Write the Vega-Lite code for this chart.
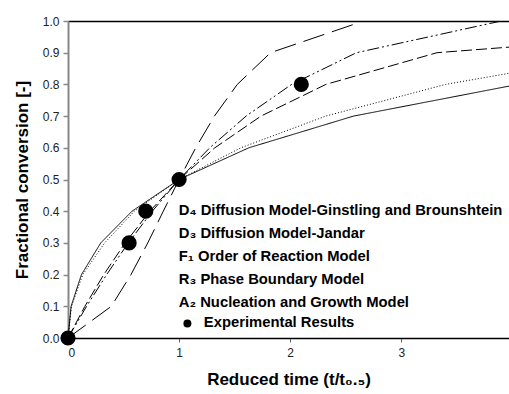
{
  "$schema": "https://vega.github.io/schema/vega-lite/v6.json",
  "width": 441,
  "height": 317,
  "autosize": {"type": "none"},
  "padding": {"left": 68, "top": 21, "right": 0, "bottom": 56},
  "background": "white",
  "config": {
    "view": {"stroke": null},
    "font": "Liberation Sans",
    "axis": {"grid": false, "labelFont": "Liberation Sans", "titleFont": "Liberation Sans"}
  },
  "datasets": {
    "lines": [
      {"model": "D₄ Diffusion Model-Ginstling and Brounshtein", "t": 0, "a": 0},
      {"model": "D₄ Diffusion Model-Ginstling and Brounshtein", "t": 0.031, "a": 0.1},
      {"model": "D₄ Diffusion Model-Ginstling and Brounshtein", "t": 0.133, "a": 0.2},
      {"model": "D₄ Diffusion Model-Ginstling and Brounshtein", "t": 0.33, "a": 0.3},
      {"model": "D₄ Diffusion Model-Ginstling and Brounshtein", "t": 0.597, "a": 0.4},
      {"model": "D₄ Diffusion Model-Ginstling and Brounshtein", "t": 1, "a": 0.5},
      {"model": "D₄ Diffusion Model-Ginstling and Brounshtein", "t": 1.556, "a": 0.6},
      {"model": "D₄ Diffusion Model-Ginstling and Brounshtein", "t": 2.32, "a": 0.7},
      {"model": "D₄ Diffusion Model-Ginstling and Brounshtein", "t": 3.4, "a": 0.8},
      {"model": "D₄ Diffusion Model-Ginstling and Brounshtein", "t": 5.03, "a": 0.9},
      {"model": "D₃ Diffusion Model-Jandar", "t": 0, "a": 0},
      {"model": "D₃ Diffusion Model-Jandar", "t": 0.028, "a": 0.1},
      {"model": "D₃ Diffusion Model-Jandar", "t": 0.121, "a": 0.2},
      {"model": "D₃ Diffusion Model-Jandar", "t": 0.295, "a": 0.3},
      {"model": "D₃ Diffusion Model-Jandar", "t": 0.576, "a": 0.4},
      {"model": "D₃ Diffusion Model-Jandar", "t": 1, "a": 0.5},
      {"model": "D₃ Diffusion Model-Jandar", "t": 1.628, "a": 0.6},
      {"model": "D₃ Diffusion Model-Jandar", "t": 2.57, "a": 0.7},
      {"model": "D₃ Diffusion Model-Jandar", "t": 4.05, "a": 0.8},
      {"model": "F₁ Order of Reaction Model", "t": 0, "a": 0},
      {"model": "F₁ Order of Reaction Model", "t": 0.152, "a": 0.1},
      {"model": "F₁ Order of Reaction Model", "t": 0.322, "a": 0.2},
      {"model": "F₁ Order of Reaction Model", "t": 0.515, "a": 0.3},
      {"model": "F₁ Order of Reaction Model", "t": 0.737, "a": 0.4},
      {"model": "F₁ Order of Reaction Model", "t": 1, "a": 0.5},
      {"model": "F₁ Order of Reaction Model", "t": 1.322, "a": 0.6},
      {"model": "F₁ Order of Reaction Model", "t": 1.737, "a": 0.7},
      {"model": "F₁ Order of Reaction Model", "t": 2.322, "a": 0.8},
      {"model": "F₁ Order of Reaction Model", "t": 3.322, "a": 0.9},
      {"model": "F₁ Order of Reaction Model", "t": 6.644, "a": 0.99},
      {"model": "R₃ Phase Boundary Model", "t": 0, "a": 0},
      {"model": "R₃ Phase Boundary Model", "t": 0.167, "a": 0.1},
      {"model": "R₃ Phase Boundary Model", "t": 0.348, "a": 0.2},
      {"model": "R₃ Phase Boundary Model", "t": 0.543, "a": 0.3},
      {"model": "R₃ Phase Boundary Model", "t": 0.759, "a": 0.4},
      {"model": "R₃ Phase Boundary Model", "t": 1, "a": 0.5},
      {"model": "R₃ Phase Boundary Model", "t": 1.276, "a": 0.6},
      {"model": "R₃ Phase Boundary Model", "t": 1.603, "a": 0.7},
      {"model": "R₃ Phase Boundary Model", "t": 2.013, "a": 0.8},
      {"model": "R₃ Phase Boundary Model", "t": 2.597, "a": 0.9},
      {"model": "R₃ Phase Boundary Model", "t": 3.9, "a": 1.0},
      {"model": "A₂ Nucleation and Growth Model", "t": 0, "a": 0},
      {"model": "A₂ Nucleation and Growth Model", "t": 0.39, "a": 0.1},
      {"model": "A₂ Nucleation and Growth Model", "t": 0.567, "a": 0.2},
      {"model": "A₂ Nucleation and Growth Model", "t": 0.718, "a": 0.3},
      {"model": "A₂ Nucleation and Growth Model", "t": 0.858, "a": 0.4},
      {"model": "A₂ Nucleation and Growth Model", "t": 1, "a": 0.5},
      {"model": "A₂ Nucleation and Growth Model", "t": 1.15, "a": 0.6},
      {"model": "A₂ Nucleation and Growth Model", "t": 1.318, "a": 0.7},
      {"model": "A₂ Nucleation and Growth Model", "t": 1.524, "a": 0.8},
      {"model": "A₂ Nucleation and Growth Model", "t": 1.823, "a": 0.9},
      {"model": "A₂ Nucleation and Growth Model", "t": 2.578, "a": 0.99}
    ],
    "points": [
      {"model": "Experimental Results", "t": 0, "a": 0},
      {"model": "Experimental Results", "t": 0.55, "a": 0.3},
      {"model": "Experimental Results", "t": 0.7, "a": 0.4},
      {"model": "Experimental Results", "t": 1, "a": 0.5},
      {"model": "Experimental Results", "t": 2.1, "a": 0.8}
    ]
  },
  "layer": [
    {
      "data": {"name": "lines"},
      "mark": {"type": "line", "clip": true, "color": "black", "strokeWidth": 1},
      "encoding": {
        "x": {
          "field": "t", "type": "quantitative",
          "scale": {"domain": [0, 3.97], "nice": false, "zero": false},
          "axis": {
            "orient": "bottom", "values": [0, 1, 2, 3], "format": "d",
            "title": "Reduced time (t/t₀.₅)",
            "titleFontSize": 17, "titleFontWeight": "bold", "titleColor": "black", "titlePadding": 13,
            "labelFontSize": 12, "labelColor": "#222", "labelPadding": 5,
            "domainColor": "black", "domainWidth": 1.5,
            "tickColor": "#666", "tickSize": 4, "tickWidth": 1
          }
        },
        "y": {
          "field": "a", "type": "quantitative",
          "scale": {"domain": [0, 1], "nice": false},
          "axis": {
            "values": [0, 0.1, 0.2, 0.3, 0.4, 0.5, 0.6, 0.7, 0.8, 0.9, 1.0], "format": ".1f",
            "labelOverlap": false,
            "title": "Fractional conversion [-]",
            "titleFontSize": 17, "titleFontWeight": "bold", "titleColor": "black", "titlePadding": 11,
            "labelFontSize": 12, "labelColor": "#222", "labelPadding": 4,
            "domainColor": "#888", "domainWidth": 2,
            "tickColor": "#888", "tickSize": 5, "tickWidth": 1.5
          }
        },
        "detail": {"field": "model"},
        "strokeDash": {
          "field": "model", "type": "nominal",
          "scale": {
            "domain": [
              "D₄ Diffusion Model-Ginstling and Brounshtein",
              "D₃ Diffusion Model-Jandar",
              "F₁ Order of Reaction Model",
              "R₃ Phase Boundary Model",
              "A₂ Nucleation and Growth Model"
            ],
            "range": [[1, 2], [1, 0], [11, 4], [12, 3, 2, 3, 2, 3], [22, 8]]
          },
          "legend": {
            "orient": "none", "legendX": 95, "legendY": 183, "title": null,
            "symbolType": "circle", "symbolSize": 4, "symbolOpacity": 0, "symbolStrokeWidth": 0,
            "labelFont": "Liberation Sans", "labelFontSize": 14.8, "labelFontWeight": "bold",
            "labelColor": "black", "labelOffset": 1, "rowPadding": 6.9, "labelLimit": 400, "padding": 0
          }
        }
      }
    },
    {
      "data": {"name": "points"},
      "mark": {"type": "point", "filled": true, "clip": false, "color": "black", "opacity": 1, "size": 230, "strokeWidth": 0},
      "encoding": {
        "x": {
          "field": "t", "type": "quantitative",
          "axis": {"orient": "top", "labels": false, "ticks": false, "title": null, "domainColor": "black", "domainWidth": 1.5}
        },
        "y": {
          "field": "a", "type": "quantitative",
          "axis": {
            "values": [0, 0.1, 0.2, 0.3, 0.4, 0.5, 0.6, 0.7, 0.8, 0.9, 1.0], "format": ".1f",
            "labelOverlap": false,
            "title": "Fractional conversion [-]",
            "titleFontSize": 17, "titleFontWeight": "bold", "titleColor": "black", "titlePadding": 11,
            "labelFontSize": 12, "labelColor": "#222", "labelPadding": 4,
            "domainColor": "#888", "domainWidth": 2,
            "tickColor": "#888", "tickSize": 5, "tickWidth": 1.5
          }
        },
        "shape": {
          "field": "model", "type": "nominal",
          "scale": {"domain": ["Experimental Results"], "range": ["circle"]},
          "legend": {
            "orient": "none", "legendX": 112, "legendY": 295, "title": null,
            "symbolSize": 64, "symbolFillColor": "black", "symbolStrokeWidth": 0, "symbolOpacity": 1,
            "labelFont": "Liberation Sans", "labelFontSize": 14.8, "labelFontWeight": "bold",
            "labelColor": "black", "labelOffset": 9, "labelLimit": 400, "padding": 0
          }
        }
      }
    }
  ],
  "resolve": {"axis": {"x": "independent"}}
}
